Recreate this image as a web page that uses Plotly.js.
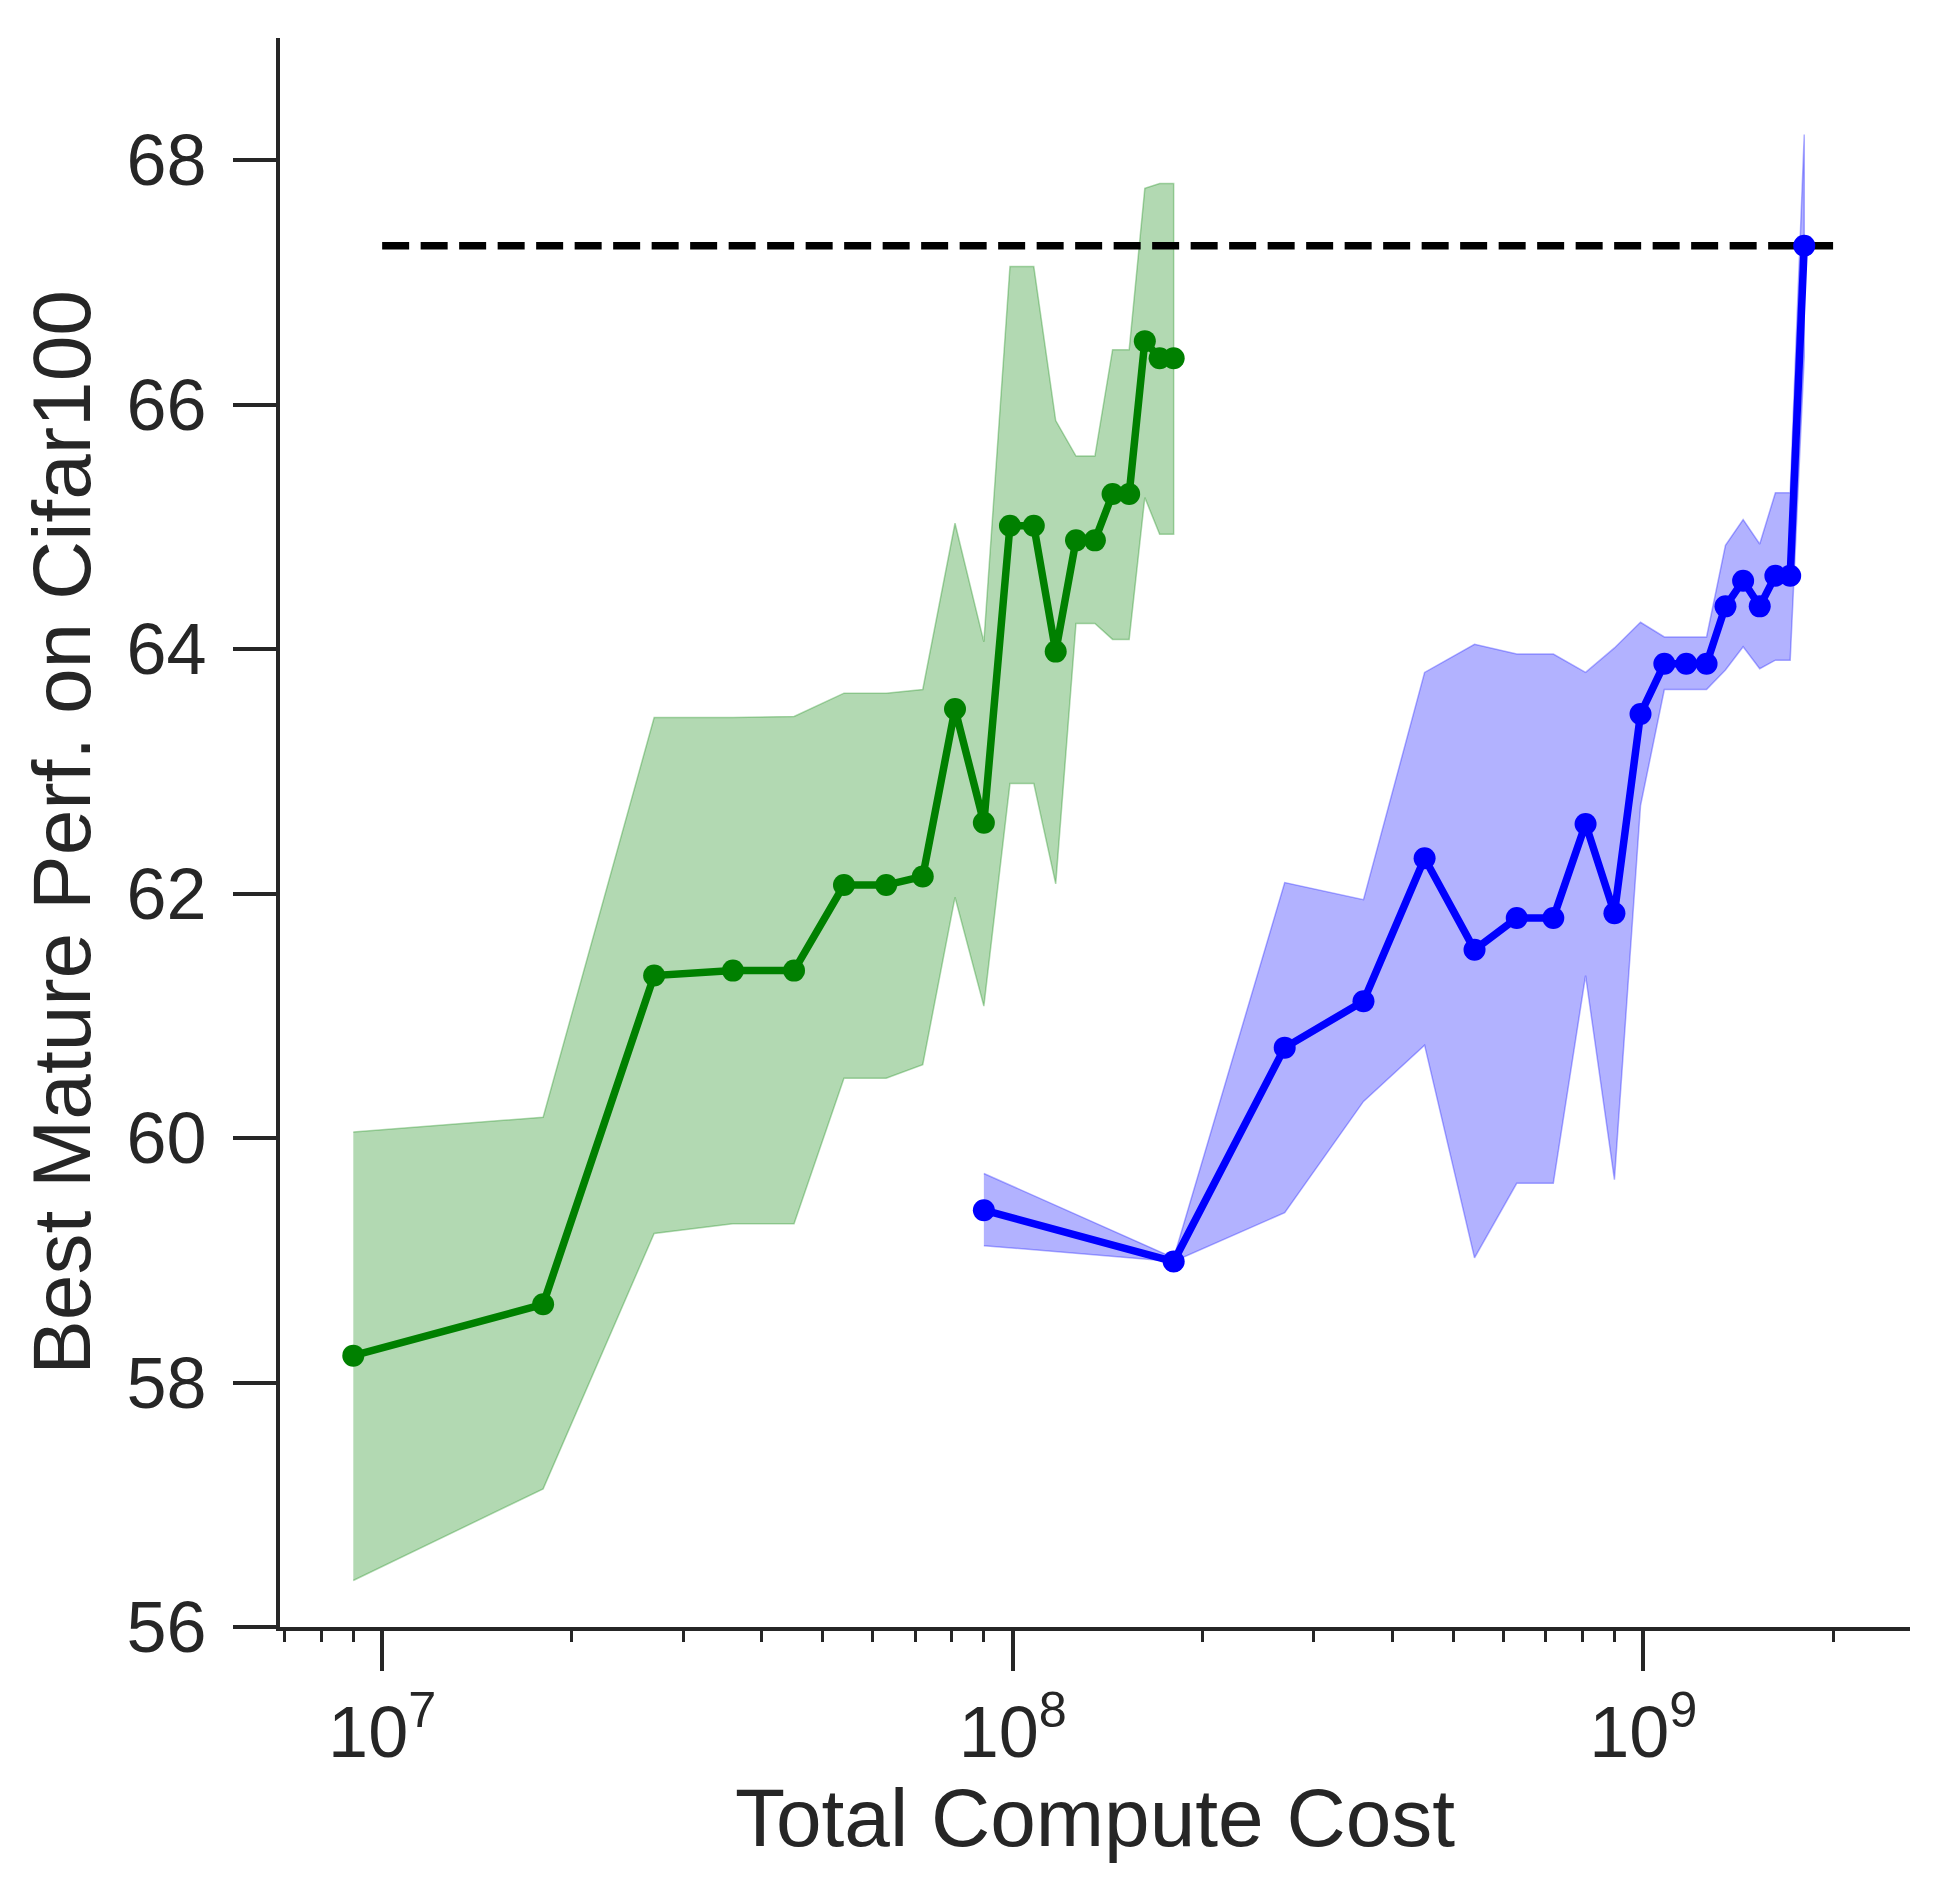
<!DOCTYPE html>
<html>
<head>
<meta charset="utf-8">
<script src="https://cdn.plot.ly/plotly-3.0.1.min.js"></script>
<style>
  html, body { margin: 0; padding: 0; background: #fff; }
  #chart { width: 1946px; height: 1890px; }
</style>
</head>
<body>
<div id="chart"></div>
<script>
// compute budgets: green run steps of 9e6, blue run steps of 9e7
const greenCost = [9e6, 1.8e7, 2.7e7, 3.6e7, 4.5e7, 5.4e7, 6.3e7, 7.2e7, 8.1e7, 9e7,
  9.9e7, 1.08e8, 1.17e8, 1.26e8, 1.35e8, 1.44e8, 1.53e8, 1.62e8, 1.71e8, 1.8e8];
const greenMean = [58.22, 58.64, 61.33, 61.37, 61.37, 62.07, 62.07, 62.14, 63.51, 62.58,
  65.01, 65.01, 63.98, 64.89, 64.89, 65.27, 65.27, 66.52, 66.38, 66.38];
const greenUpper = [60.05, 60.17, 63.44, 63.44, 63.45, 63.64, 63.64, 63.67, 65.03, 64.06,
  67.13, 67.13, 65.87, 65.58, 65.58, 66.45, 66.45, 67.77, 67.81, 67.81];
const greenLower = [56.38, 57.13, 59.22, 59.30, 59.30, 60.49, 60.49, 60.60, 61.97, 61.08,
  62.90, 62.90, 62.08, 64.21, 64.21, 64.08, 64.08, 65.24, 64.94, 64.94];

const blueCost = [9e7, 1.8e8, 2.7e8, 3.6e8, 4.5e8, 5.4e8, 6.3e8, 7.2e8, 8.1e8, 9e8,
  9.9e8, 1.08e9, 1.17e9, 1.26e9, 1.35e9, 1.44e9, 1.53e9, 1.62e9, 1.71e9, 1.8e9];
const blueMean = [59.41, 58.99, 60.74, 61.12, 62.29, 61.54, 61.80, 61.80, 62.57, 61.84,
  63.47, 63.88, 63.88, 63.88, 64.35, 64.56, 64.35, 64.60, 64.60, 67.30];
const blueUpper = [59.71, 59.02, 62.09, 61.95, 63.81, 64.04, 63.96, 63.96, 63.81, 64.01,
  64.22, 64.10, 64.10, 64.10, 64.85, 65.06, 64.86, 65.28, 65.28, 68.21];
const blueLower = [59.12, 58.99, 59.39, 60.30, 60.76, 59.02, 59.63, 59.63, 61.33, 59.66,
  62.72, 63.67, 63.67, 63.67, 63.83, 64.02, 63.84, 63.91, 63.91, 66.39];

const refCost = [1e7, 2e9];
const refPerf = [67.3, 67.3];

const yTicks = [56, 58, 60, 62, 64, 66, 68];
const xTicks = [1e7, 1e8, 1e9];
const xTickText = ['10<sup>7</sup>', '10<sup>8</sup>', '10<sup>9</sup>'];

const ink = '#262626';
const font = 'Liberation Sans, Arial, sans-serif';

function band(xs, up, lo, color) {
  return {
    x: xs.concat(xs.slice().reverse()),
    y: up.concat(lo.slice().reverse()),
    type: 'scatter',
    mode: 'lines',
    fill: 'toself',
    fillcolor: color,
    line: { color: color, width: 1.5 },
    hoverinfo: 'skip',
    showlegend: false,
  };
}

function curve(xs, ys, color) {
  return {
    x: xs,
    y: ys,
    type: 'scatter',
    mode: 'lines+markers',
    line: { color: color, width: 7.5 },
    marker: { color: color, size: 22 },
    showlegend: false,
  };
}

const traces = [
  band(greenCost, greenUpper, greenLower, 'rgba(0,128,0,0.3)'),
  band(blueCost, blueUpper, blueLower, 'rgba(0,0,255,0.3)'),
  {
    x: refCost,
    y: refPerf,
    type: 'scatter',
    mode: 'lines',
    line: { color: '#000', width: 7.5, dash: '27px,11.5px' },
    showlegend: false,
  },
  curve(greenCost, greenMean, '#008000'),
  curve(blueCost, blueMean, '#0000ff'),
];

const layout = {
  width: 1946,
  height: 1890,
  paper_bgcolor: '#fff',
  plot_bgcolor: '#fff',
  font: { family: font, color: ink, size: 72 },
  margin: { l: 280, r: 36, t: 38, b: 263 },
  showlegend: false,
  xaxis: {
    type: 'log',
    range: [6.838, 9.423],
    tickvals: xTicks,
    ticktext: xTickText,
    ticks: 'outside',
    ticklen: 40,
    tickwidth: 4,
    tickcolor: ink,
    tickfont: { size: 72, color: ink, family: font },
    showline: true,
    linewidth: 4,
    linecolor: ink,
    showgrid: false,
    zeroline: false,
    automargin: false,
    minor: { dtick: 'D1', ticks: 'outside', ticklen: 11, tickwidth: 3, tickcolor: ink, showgrid: false },
    title: { text: 'Total Compute Cost', font: { size: 82, color: ink, family: font }, standoff: 10 },
  },
  yaxis: {
    range: [56, 69],
    tickvals: yTicks,
    ticks: 'outside',
    ticklen: 43,
    tickwidth: 4,
    tickcolor: ink,
    tickfont: { size: 72, color: ink, family: font },
    ticklabelstandoff: 12,
    showline: true,
    linewidth: 4,
    linecolor: ink,
    showgrid: false,
    zeroline: false,
    automargin: false,
    title: { text: 'Best Mature Perf. on Cifar100', font: { size: 82, color: ink, family: font }, standoff: 10 },
  },
};

Plotly.newPlot('chart', traces, layout, { displayModeBar: false, responsive: false });
</script>
</body>
</html>
